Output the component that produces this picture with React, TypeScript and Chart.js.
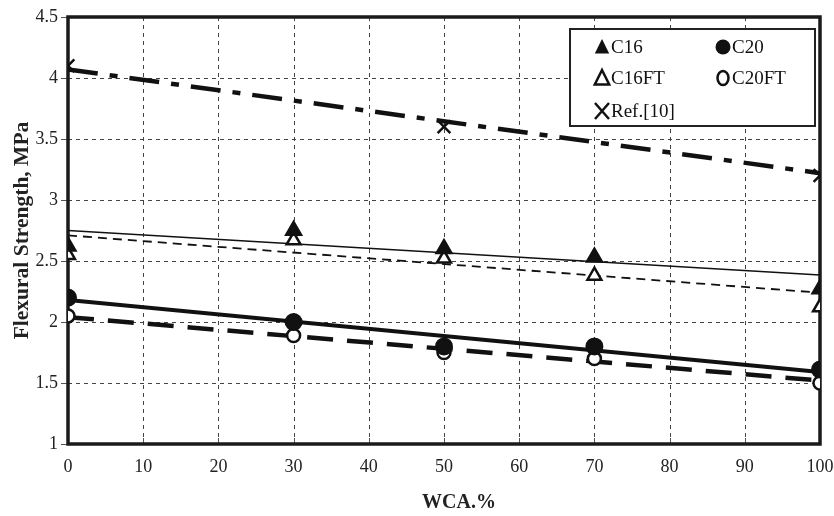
import { useEffect, useRef } from "react";
import { Chart, registerables } from "chart.js";
Chart.register(...registerables);

// ---- data ----
const wca = [0, 30, 50, 70, 100];
const c16 = [2.62, 2.75, 2.6, 2.53, 2.27];
const c16ft = [2.55, 2.67, 2.52, 2.38, 2.12];
const c20 = [2.2, 2.0, 1.8, 1.8, 1.61];
const c20ft = [2.05, 1.89, 1.75, 1.7, 1.5];
const refWca = [0, 50, 100];
const ref10 = [4.1, 3.6, 3.2];
const trendWca = [0, 100];
const c16Trend = [2.75, 2.385];
const c16ftTrend = [2.71, 2.24];
const c20Trend = [2.18, 1.59];
const c20ftTrend = [2.04, 1.52];
const refTrend = [4.07, 3.22];
const xTickValues = [0, 10, 20, 30, 40, 50, 60, 70, 80, 90, 100];
const yTickValues = [1, 1.5, 2, 2.5, 3, 3.5, 4, 4.5];
const legendLabels = ["C16", "C20", "C16FT", "C20FT", "Ref.[10]"];

const FONT = "'Liberation Serif', 'Times New Roman', serif";

const pts = (xs: number[], ys: number[]) => xs.map((x, i) => ({ x, y: ys[i] }));

function drawMarker(ctx: CanvasRenderingContext2D, kind: string, x: number, y: number) {
  ctx.save();
  ctx.strokeStyle = "#111";
  ctx.fillStyle = "#111";
  ctx.lineWidth = 2;
  const r = 8;
  if (kind === "tri" || kind === "triOpen") {
    ctx.beginPath();
    ctx.moveTo(x, y - r);
    ctx.lineTo(x + r * 0.9, y + r * 0.8);
    ctx.lineTo(x - r * 0.9, y + r * 0.8);
    ctx.closePath();
    if (kind === "tri") ctx.fill();
    else {
      ctx.lineWidth = 2.5;
      ctx.stroke();
    }
  } else if (kind === "circ" || kind === "circOpen") {
    ctx.beginPath();
    if (kind === "circ") {
      ctx.arc(x, y, 7.5, 0, Math.PI * 2);
      ctx.fill();
    } else {
      ctx.ellipse(x, y, 5.5, 7, 0, 0, Math.PI * 2);
      ctx.lineWidth = 2.5;
      ctx.stroke();
    }
  } else {
    ctx.lineWidth = 2.5;
    ctx.beginPath();
    ctx.moveTo(x - 7, y - 8);
    ctx.lineTo(x + 7, y + 8);
    ctx.moveTo(x + 7, y - 8);
    ctx.lineTo(x - 7, y + 8);
    ctx.stroke();
  }
  ctx.restore();
}

const framePlugin = {
  id: "frameGrid",
  beforeDatasetsDraw(chart: any) {
    const { ctx, chartArea: a, scales } = chart;
    const xs = scales.x, ys = scales.y;
    ctx.save();
    ctx.strokeStyle = "#444";
    ctx.lineWidth = 1;
    ctx.setLineDash([4, 4]);
    xTickValues.slice(1, -1).forEach((v) => {
      const px = Math.round(xs.getPixelForValue(v)) + 0.5;
      ctx.beginPath();
      ctx.moveTo(px, a.top);
      ctx.lineTo(px, a.bottom);
      ctx.stroke();
    });
    yTickValues.slice(1, -1).forEach((v) => {
      const py = Math.round(ys.getPixelForValue(v)) + 0.5;
      ctx.beginPath();
      ctx.moveTo(a.left, py);
      ctx.lineTo(a.right, py);
      ctx.stroke();
    });
    ctx.setLineDash([]);
    ctx.strokeStyle = "#555";
    yTickValues.forEach((v) => {
      const py = Math.round(ys.getPixelForValue(v)) + 0.5;
      ctx.beginPath();
      ctx.moveTo(a.left - 7, py);
      ctx.lineTo(a.left, py);
      ctx.stroke();
    });
    xTickValues.forEach((v) => {
      const px = Math.round(xs.getPixelForValue(v)) + 0.5;
      ctx.beginPath();
      ctx.moveTo(px, a.bottom);
      ctx.lineTo(px, a.bottom - 6);
      ctx.stroke();
    });
    ctx.strokeStyle = "#1a1a1a";
    ctx.lineWidth = 3.5;
    ctx.strokeRect(a.left, a.top, a.right - a.left, a.bottom - a.top);
    ctx.restore();
  },
  afterDatasetsDraw(chart: any) {
    const { ctx, chartArea: a } = chart;
    const left = a.right - 250;
    const top = a.top + 12;
    const w = 245, h = 97;
    ctx.save();
    ctx.fillStyle = "#fff";
    ctx.fillRect(left, top, w, h);
    ctx.strokeStyle = "#222";
    ctx.lineWidth = 2;
    ctx.strokeRect(left, top, w, h);
    const kinds = ["tri", "circ", "triOpen", "circOpen", "cross"];
    const pos = [
      [left + 32, top + 18],
      [left + 153, top + 18],
      [left + 32, top + 49],
      [left + 153, top + 49],
      [left + 32, top + 82],
    ];
    ctx.font = `19px ${FONT}`;
    ctx.textBaseline = "middle";
    ctx.fillStyle = "#111";
    legendLabels.forEach((lab, i) => {
      const [mx, my] = pos[i];
      drawMarker(ctx, kinds[i], mx, my);
      ctx.fillStyle = "#111";
      ctx.fillText(lab, mx + 9, my + 1);
    });
    ctx.restore();
  },
};

export default function App() {
  const ref = useRef<HTMLCanvasElement>(null);
  useEffect(() => {
    if (!ref.current) return;
    const markerBase = { showLine: false, order: 0, borderColor: "#111", pointBorderWidth: 2 };
    const chart = new Chart(ref.current, {
      type: "line",
      data: {
        datasets: [
          { ...markerBase, label: "C16", data: pts(wca, c16), pointStyle: "triangle", pointRadius: 9, backgroundColor: "#111", pointBackgroundColor: "#111" },
          { ...markerBase, label: "C16FT", data: pts(wca, c16ft), pointStyle: "triangle", pointRadius: 8, backgroundColor: "#fff", pointBackgroundColor: "#fff", pointBorderWidth: 2.5 },
          { ...markerBase, label: "C20", data: pts(wca, c20), pointStyle: "circle", pointRadius: 8, backgroundColor: "#111", pointBackgroundColor: "#111" },
          { ...markerBase, label: "C20FT", data: pts(wca, c20ft), pointStyle: "circle", pointRadius: 6.5, backgroundColor: "#fff", pointBackgroundColor: "#fff", pointBorderWidth: 2.5 },
          { ...markerBase, label: "Ref.[10]", data: pts(refWca, ref10), pointStyle: "crossRot", pointRadius: 9, pointBorderWidth: 2.5 },
          { label: "C16 trend", data: pts(trendWca, c16Trend), order: 1, borderColor: "#111", borderWidth: 1.6, pointRadius: 0 },
          { label: "C16FT trend", data: pts(trendWca, c16ftTrend), order: 1, borderColor: "#111", borderWidth: 1.8, borderDash: [9, 6], pointRadius: 0 },
          { label: "C20 trend", data: pts(trendWca, c20Trend), order: 1, borderColor: "#111", borderWidth: 4, pointRadius: 0 },
          { label: "C20FT trend", data: pts(trendWca, c20ftTrend), order: 1, borderColor: "#111", borderWidth: 4.5, borderDash: [26, 14], pointRadius: 0 },
          { label: "Ref trend", data: pts(trendWca, refTrend), order: 1, borderColor: "#111", borderWidth: 4.5, borderDash: [30, 12, 8, 12], pointRadius: 0 },
        ],
      },
      options: {
        responsive: false,
        animation: false,
        layout: { padding: { top: 17, right: 14, left: 0, bottom: 0 } },
        plugins: { legend: { display: false }, tooltip: { enabled: false } },
        scales: {
          x: {
            type: "linear",
            min: 0,
            max: 100,
            afterFit: (s: any) => { s.height = 72; s.paddingLeft = 0; s.paddingRight = 0; },
            afterBuildTicks: (s: any) => { s.ticks = xTickValues.map((v) => ({ value: v })); },
            grid: { display: false, drawTicks: false },
            border: { display: false },
            ticks: { color: "#222", padding: 12, font: { family: FONT, size: 18 } },
            title: { display: true, text: "\u2002\u2002\u2002WCA.%", color: "#222", font: { family: FONT, size: 20, weight: "bold" }, padding: { top: 0, bottom: 1 } },
          },
          y: {
            type: "linear",
            min: 1,
            max: 4.5,
            afterFit: (s: any) => { s.width = 68; s.paddingTop = 0; s.paddingBottom = 0; },
            afterBuildTicks: (s: any) => { s.ticks = yTickValues.map((v) => ({ value: v })); },
            grid: { display: false, drawTicks: false },
            border: { display: false },
            ticks: { color: "#222", padding: 10, font: { family: FONT, size: 18 }, callback: (v: any) => String(v) },
            title: { display: true, text: "Flexural Strength, MPa", color: "#222", font: { family: FONT, size: 21.5, weight: "bold" }, padding: { top: 10, bottom: 0 } },
          },
        },
      },
      plugins: [framePlugin],
    } as any);
    return () => chart.destroy();
  }, []);
  return (
    <div style={{ position: "fixed", left: 0, top: 0, width: 834, height: 516, background: "#fff" }}>
      <canvas ref={ref} width={834} height={516} />
    </div>
  );
}
